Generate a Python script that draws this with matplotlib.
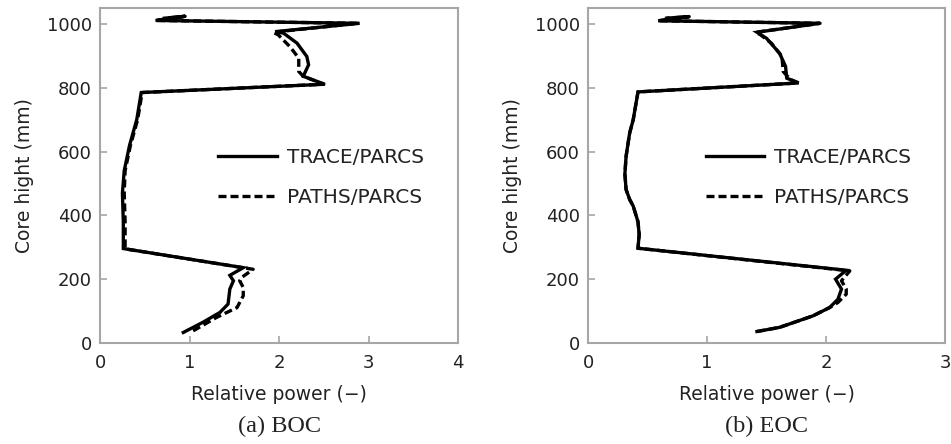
import numpy as np
import matplotlib
matplotlib.use("Agg")
from matplotlib import pyplot as plt

# BOC, TRACE/PARCS
boc_trace_x = [0.93, 1.15, 1.34, 1.43, 1.45, 1.49, 1.45, 1.60, 0.26, 0.26, 0.25, 0.27, 0.33,
               0.41, 0.46, 2.51, 2.27, 2.33, 2.31, 2.20, 2.05, 1.96, 2.90, 0.62, 0.95, 0.72]
boc_trace_y = [33, 65, 96, 122, 169, 195, 212, 236, 296, 380, 470, 540, 620,
               700, 785, 811, 836, 872, 898, 940, 971, 976, 1002, 1011, 1024, 1018]

# BOC, PATHS/PARCS
boc_paths_x = [1.04, 1.30, 1.53, 1.60, 1.60, 1.56, 1.58, 1.71, 0.28, 0.28, 0.27, 0.28, 0.34,
               0.42, 0.47, 2.50, 2.27, 2.22, 2.22, 2.12, 1.99, 1.93, 2.88, 0.62, 0.95, 0.72]
boc_paths_y = [38, 80, 111, 148, 174, 195, 205, 231, 295, 380, 470, 540, 620,
               700, 785, 811, 836, 851, 893, 929, 966, 974, 1002, 1011, 1024, 1018]

# EOC, TRACE/PARCS
eoc_trace_x = [1.42, 1.61, 1.89, 2.03, 2.10, 2.13, 2.08, 2.17, 0.42, 0.43, 0.42, 0.38, 0.35,
               0.32, 0.31, 0.32, 0.35, 0.38, 0.42, 1.77, 1.67, 1.66, 1.61, 1.50, 1.42, 1.95,
               0.59, 0.85, 0.66]
eoc_trace_y = [36, 49, 85, 111, 137, 169, 200, 228, 297, 340, 380, 429, 450,
               481, 530, 585, 658, 700, 787, 815, 830, 867, 908, 955, 974, 1002,
               1010, 1023, 1018]

# EOC, PATHS/PARCS
eoc_paths_x = [1.42, 1.61, 1.89, 2.03, 2.10, 2.17, 2.17, 2.13, 2.20, 0.42, 0.43, 0.42, 0.38, 0.35,
               0.32, 0.31, 0.32, 0.35, 0.38, 0.42, 1.77, 1.70, 1.64, 1.63, 1.54, 1.45, 1.41, 1.95,
               0.59, 0.85, 0.66]
eoc_paths_y = [36, 49, 85, 111, 127, 153, 169, 195, 226, 297, 340, 380, 429, 450,
               481, 530, 585, 658, 700, 787, 815, 826, 851, 898, 940, 966, 974, 1002,
               1010, 1023, 1018]

panels = [
    ("(a) BOC", boc_trace_x, boc_trace_y, boc_paths_x, boc_paths_y, 4, [0.1052, 0.2275, 0.3765, 0.7545]),
    ("(b) EOC", eoc_trace_x, eoc_trace_y, eoc_paths_x, eoc_paths_y, 3, [0.6183, 0.2275, 0.3754, 0.7545]),
]

plt.rcParams["font.family"] = "DejaVu Sans"
grey = "#a6a6a6"
txt = "#222222"

fig = plt.figure(figsize=(9.51, 4.44), dpi=100)

for caption, tx, ty, px, py, xmax, rect in panels:
    ax = fig.add_axes(rect)
    ax.plot(tx, ty, color="black", lw=2.4, label="TRACE/PARCS", solid_joinstyle="miter")
    ax.plot(px, py, color="black", lw=2.4, ls=(0, (2.4, 1.2)), label="PATHS/PARCS")

    ax.set_xlim(0, xmax)
    ax.set_ylim(0, 1050)
    ax.set_xticks(np.arange(0, xmax + 1, 1))
    ax.set_yticks(np.arange(0, 1001, 200))
    for s in ax.spines.values():
        s.set_color(grey)
        s.set_linewidth(1.5)
    ax.tick_params(direction="in", length=5, width=1.2, color=grey,
                   labelsize=13, labelcolor=txt)
    ax.tick_params(axis="x", pad=8)
    ax.tick_params(axis="y", pad=6)
    ax.set_xlabel("Relative power (\u2212)", fontsize=13.5, color=txt, labelpad=9)
    ax.set_ylabel("Core hight (mm)", fontsize=13.5, color=txt, labelpad=9)

    ax.legend(loc="center left", bbox_to_anchor=(0.33, 0.495), frameon=False,
              fontsize=14.5, handlelength=2.9, handletextpad=0.5, labelspacing=1.05,
              borderpad=0, borderaxespad=0, labelcolor=txt)

    cx = rect[0] + rect[2] / 2
    fig.text(cx, 1 - 426 / 444, caption, ha="center", va="center",
             fontsize=17.5, family="Liberation Serif", color=txt)

fig.savefig("out.png", dpi=100)
